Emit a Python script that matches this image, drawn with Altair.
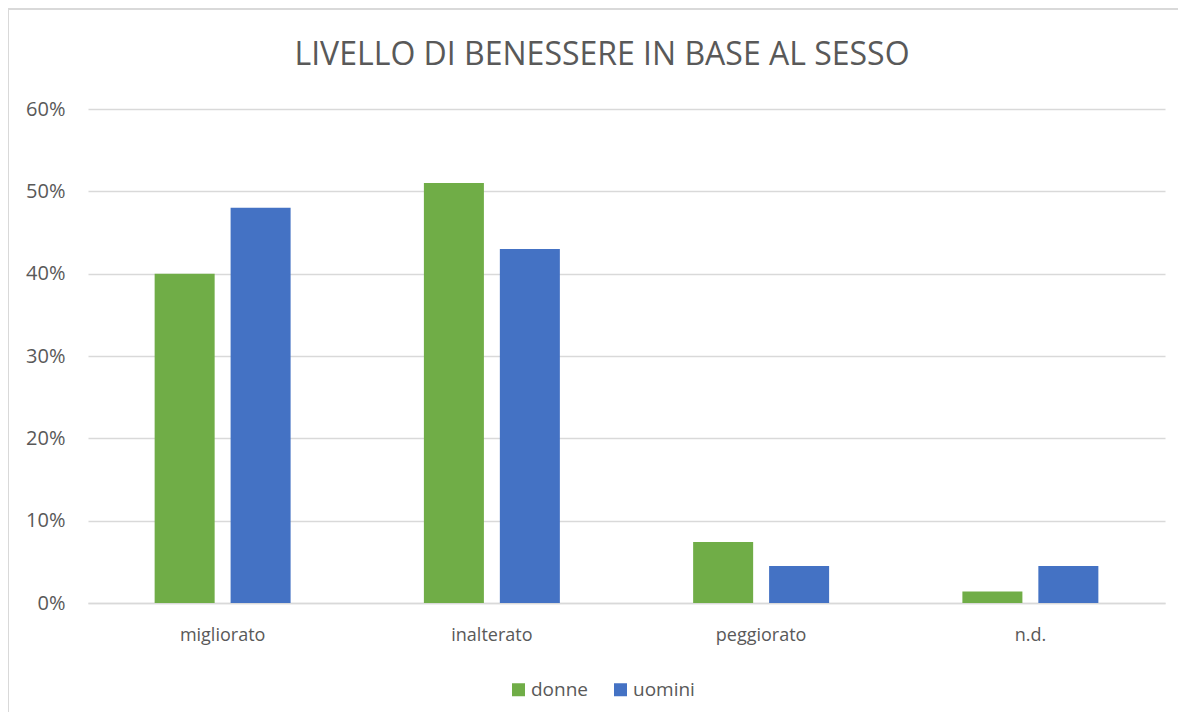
import altair as alt
import pandas as pd

categories = ["migliorato", "inalterato", "peggiorato", "n.d."]
series = ["donne", "uomini"]
donne = [0.40, 0.51, 0.074, 0.014]
uomini = [0.48, 0.43, 0.045, 0.045]
colors = ["#70AD47", "#4472C4"]
title_text = "LIVELLO DI BENESSERE IN BASE AL SESSO"

rows = []
for i, c in enumerate(categories):
    rows.append({"categoria": c, "sesso": "donne", "valore": donne[i]})
    rows.append({"categoria": c, "sesso": "uomini", "valore": uomini[i]})
df = pd.DataFrame(rows)

FONT = "Open Sans"
GRID = "#D9D9D9"

bars = alt.Chart(df).mark_bar().encode(
    x=alt.X("categoria:N", sort=categories, title=None,
            scale=alt.Scale(paddingInner=0.495, paddingOuter=0.2475),
            axis=alt.Axis(labelAngle=0, labelFontSize=18, labelColor="#595959",
                          labelFont=FONT, labelPadding=23, ticks=False,
                          domainColor=GRID, domainWidth=1.5, grid=False)),
    xOffset=alt.XOffset("sesso:N", sort=series,
                        scale=alt.Scale(paddingInner=0.21, paddingOuter=0)),
    y=alt.Y("valore:Q", title=None,
            scale=alt.Scale(domain=[0, 0.6], nice=False),
            axis=alt.Axis(format=".0%", values=[0, 0.1, 0.2, 0.3, 0.4, 0.5, 0.6],
                          labelFontSize=20, labelColor="#595959", labelFont=FONT,
                          labelPadding=23, ticks=False, domain=False,
                          gridColor=GRID, gridWidth=1.5)),
    color=alt.Color("sesso:N", sort=series,
                    scale=alt.Scale(domain=series, range=colors),
                    legend=alt.Legend(title=None, orient="none", direction="horizontal",
                                      legendX=421, legendY=571,
                                      symbolType="square", symbolSize=169,
                                      symbolStrokeWidth=0, labelFontSize=19,
                                      labelColor="#595959", labelFont=FONT,
                                      columnPadding=22, labelOffset=3)),
)

frame_df = pd.DataFrame({"k": [0]})
top_border = alt.Chart(frame_df).mark_rule(color=GRID, strokeWidth=2).encode(
    x=alt.value(-80), x2=alt.value(1090), y=alt.value(-100))
left_border = alt.Chart(frame_df).mark_rule(color=GRID, strokeWidth=2).encode(
    x=alt.value(-80), y=alt.value(-100), y2=alt.value(611))
title = alt.Chart(frame_df).mark_text(
    text=title_text, font=FONT, fontSize=32, color="#595959",
    align="center", baseline="middle").encode(
    x=alt.value(514), y=alt.value(-54))

chart = alt.layer(bars, top_border, left_border, title).properties(
    width=1077, height=494,
    padding={"left": 80, "top": 101, "right": 13, "bottom": 109},
    autosize=alt.AutoSizeParams(type="none"),
).configure(background="white").configure_view(stroke=None, strokeWidth=0)

chart.save("out.html", embed_options={"renderer": "svg", "actions": False})
